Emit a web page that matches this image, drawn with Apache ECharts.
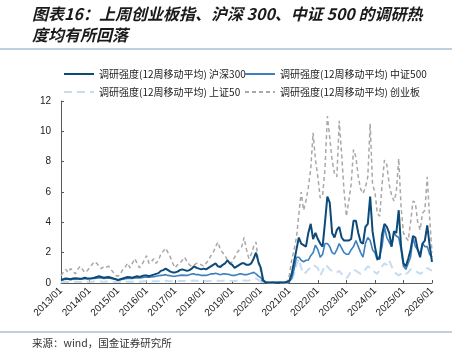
<!DOCTYPE html>
<html>
<head>
<meta charset="utf-8">
<script src="https://cdn.jsdelivr.net/npm/echarts@6/dist/echarts.min.js"></script>
<style>
    html, body { margin: 0; padding: 0; background: #fff; }
    #chart { width: 463px; height: 352px; }
</style>
</head>
<body>
<div id="chart"></div>
<script>
    // 月度数据 2013/01 - 2026/01
    var hs300 = [
        0.2, 0.25, 0.3, 0.28, 0.25, 0.3, 0.32, 0.3, 0.28, 0.3, 0.35, 0.3,
        0.3, 0.32, 0.35, 0.4, 0.45, 0.4, 0.35, 0.38, 0.4, 0.35, 0.3, 0.25,
        0.2, 0.25, 0.3, 0.35, 0.4, 0.38, 0.35, 0.4, 0.45, 0.4, 0.45, 0.5,
        0.5, 0.45, 0.5, 0.55, 0.6, 0.65, 0.8, 0.85, 0.95, 0.85, 0.75, 0.7,
        0.7, 0.75, 0.85, 0.9, 0.85, 0.8, 0.85, 0.95, 1.1, 1.0, 0.95, 0.9,
        0.95, 0.9, 1.0, 1.1, 1.2, 1.3, 1.1, 1.05, 1.2, 1.3, 1.5, 1.3,
        1.2, 1.0, 1.1, 1.2, 1.3, 1.3, 1.2, 1.2, 1.3, 1.6, 2.0, 1.4,
        1.0, 0.2, 0.05, 0.04, 0.04, 0.04, 0.04, 0.04, 0.04, 0.04, 0.04, 0.06,
        0.15, 0.6, 1.4, 2.2, 3.0, 2.6, 2.5, 2.4, 3.3, 3.9, 2.9, 3.3,
        2.9, 2.6, 2.4, 4.0, 5.7, 5.3, 3.3, 3.0, 3.5, 3.7, 3.0, 2.8,
        2.8, 2.8, 2.9, 4.1, 4.1, 3.3, 2.7, 2.6, 3.7, 3.9, 5.7, 3.4,
        2.4, 1.6, 1.6, 3.2, 3.9, 3.7, 3.3, 2.4, 3.4, 3.3, 4.8, 2.4,
        1.3, 1.1, 1.6, 2.2, 3.1, 3.0, 2.2, 1.7, 2.6, 2.8, 3.8, 2.5,
        1.4
    ];
    var zz500 = [
        0.2, 0.22, 0.25, 0.25, 0.22, 0.25, 0.28, 0.27, 0.25, 0.27, 0.3, 0.28,
        0.28, 0.3, 0.3, 0.32, 0.35, 0.33, 0.3, 0.32, 0.33, 0.3, 0.28, 0.25,
        0.2, 0.22, 0.25, 0.28, 0.3, 0.32, 0.3, 0.33, 0.35, 0.33, 0.35, 0.38,
        0.4, 0.38, 0.4, 0.42, 0.45, 0.48, 0.5, 0.52, 0.55, 0.5, 0.48, 0.45,
        0.45, 0.48, 0.5, 0.52, 0.5, 0.5, 0.55, 0.6, 0.6, 0.55, 0.55, 0.5,
        0.5, 0.5, 0.55, 0.6, 0.6, 0.65, 0.6, 0.55, 0.6, 0.6, 0.58, 0.55,
        0.5, 0.5, 0.55, 0.6, 0.6, 0.55, 0.55, 0.6, 0.65, 0.7, 0.6, 0.45,
        0.35, 0.1, 0.04, 0.03, 0.03, 0.03, 0.03, 0.03, 0.03, 0.03, 0.03, 0.04,
        0.08, 0.3, 0.9, 1.7, 1.7, 1.5, 1.4, 1.5, 1.5, 1.8, 2.0, 2.5,
        2.2, 1.7, 1.9, 2.6, 2.6, 2.4, 2.0, 1.9, 2.2, 2.6, 2.3, 2.0,
        1.9, 1.9, 2.2, 2.4, 2.8, 2.4, 2.0, 1.7, 2.6, 3.0, 2.8, 2.2,
        2.0, 1.5, 1.8, 2.4, 3.7, 3.0, 2.7, 2.4, 3.3, 3.1, 3.0, 2.2,
        1.1, 0.9, 1.3, 1.7, 3.0, 2.4, 2.2, 1.9, 2.6, 2.4, 2.4, 1.9,
        1.7
    ];
    var sz50 = [
        0.05, 0.06, 0.08, 0.07, 0.06, 0.08, 0.09, 0.08, 0.07, 0.08, 0.1, 0.08,
        0.08, 0.09, 0.1, 0.1, 0.12, 0.1, 0.09, 0.1, 0.1, 0.09, 0.08, 0.07,
        0.06, 0.06, 0.07, 0.08, 0.09, 0.1, 0.09, 0.1, 0.1, 0.09, 0.1, 0.11,
        0.11, 0.1, 0.1, 0.11, 0.12, 0.12, 0.13, 0.14, 0.15, 0.13, 0.12, 0.12,
        0.12, 0.12, 0.13, 0.14, 0.13, 0.13, 0.14, 0.15, 0.16, 0.15, 0.14, 0.13,
        0.13, 0.12, 0.13, 0.14, 0.15, 0.16, 0.15, 0.14, 0.15, 0.16, 0.17, 0.15,
        0.14, 0.13, 0.15, 0.16, 0.17, 0.16, 0.15, 0.17, 0.2, 0.25, 0.3, 0.2,
        0.1, 0.03, 0.02, 0.02, 0.02, 0.02, 0.02, 0.02, 0.02, 0.02, 0.02, 0.02,
        0.05, 0.2, 0.6, 1.2, 1.6, 1.0, 0.6, 0.7, 0.9, 1.0, 1.2, 1.1,
        1.0, 0.5, 0.8, 1.2, 1.1, 0.9, 0.8, 0.8, 0.7, 0.8, 0.6, 0.4,
        0.3, 0.5, 0.8, 0.9, 0.8, 0.7, 0.6, 0.7, 0.9, 1.1, 1.0, 0.9,
        0.7, 0.6, 0.9, 1.1, 1.3, 1.2, 1.5, 1.1, 0.8, 0.6, 0.5, 0.6,
        0.7, 0.6, 0.7, 0.9, 0.9, 0.8, 0.7, 0.6, 0.7, 0.8, 1.0, 0.9,
        0.8
    ];
    var cyb = [
        0.5, 0.7, 0.9, 0.7, 0.95, 0.8, 0.6, 0.9, 1.1, 0.9, 0.7, 0.8,
        1.0, 1.2, 1.4, 1.3, 1.1, 0.95, 1.1, 1.05, 1.1, 0.9, 0.7, 0.5,
        0.45, 0.6, 0.9, 1.05, 1.3, 1.0, 1.3, 1.6, 1.3, 1.0, 1.2, 1.5,
        1.8, 1.3, 1.4, 1.6, 1.3, 1.5, 1.9, 2.1, 2.3, 2.0, 1.7, 1.3,
        1.0, 1.2, 1.3, 1.5, 1.7, 1.4, 1.2, 1.1, 1.2, 1.3, 1.3, 1.2,
        1.1, 1.3, 1.5, 1.8, 2.0, 2.4, 2.7, 2.2, 2.0, 1.8, 1.5, 1.3,
        1.4, 1.7, 2.0, 2.2, 2.4, 3.0, 2.2, 1.6, 1.9, 2.4, 2.7, 1.3,
        0.8, 0.15, 0.05, 0.05, 0.05, 0.05, 0.05, 0.05, 0.05, 0.05, 0.05, 0.1,
        0.5, 1.5, 2.2, 3.0, 4.5, 6.0, 4.8, 5.4, 6.3, 7.5, 9.9, 8.1,
        7.0, 5.6, 5.8, 7.5, 11.0, 9.6, 8.1, 7.2, 7.0, 10.7, 8.5, 6.1,
        4.4, 5.4, 6.5, 8.8, 8.3, 7.0, 6.2, 5.9, 6.3, 7.0, 10.5, 6.5,
        6.0, 4.6, 4.4, 6.5, 8.1, 7.8, 6.5, 5.8, 5.4, 6.0, 8.2, 5.0,
        3.3, 3.0, 2.8, 4.0, 5.4, 5.3, 4.0, 3.5, 4.6, 4.8, 7.0, 4.3,
        2.0
    ];
    var yTicks = {min: 0, max: 12, interval: 2};

    // x轴月份
    var months = [];
    for (var y = 2013; y <= 2026; y++) {
        for (var m = 1; m <= 12; m++) {
            if (y === 2026 && m > 1) break;
            months.push(y + '/' + (m < 10 ? '0' + m : m));
        }
    }

    var names = [
        '调研强度(12周移动平均) 沪深300',
        '调研强度(12周移动平均) 中证500',
        '调研强度(12周移动平均) 上证50',
        '调研强度(12周移动平均) 创业板'
    ];
    var font = '"Noto Sans CJK SC", "Liberation Sans", sans-serif';

    var legendBase = {
        orient: 'vertical',
        top: 64,
        itemWidth: 30,
        itemHeight: 12,
        itemGap: 8,
        itemStyle: {opacity: 0},
        textStyle: {fontFamily: font, fontSize: 10, color: '#222'}
    };

    var chart = echarts.init(document.getElementById('chart'));
    var option = {
        animation: false,
        title: {
            text: '图表16：上周创业板指、沪深 300、中证 500 的调研热\n度均有所回落',
            left: 27,
            top: -2,
            textStyle: {
                fontFamily: font,
                fontSize: 16,
                fontWeight: 'bold',
                fontStyle: 'italic',
                color: '#1a1a1a',
                lineHeight: 21
            }
        },
        legend: [
            Object.assign({}, legendBase, {left: 58, data: [names[0], names[2]]}),
            Object.assign({}, legendBase, {left: 239, data: [names[1], names[3]]})
        ],
        grid: {
            left: 61,
            right: 31,
            top: 101,
            bottom: 69
        },
        xAxis: {
            type: 'category',
            boundaryGap: false,
            data: months,
            axisLine: {lineStyle: {color: '#595959', width: 1}},
            axisTick: {inside: true, interval: 11, length: 3, lineStyle: {color: '#595959'}},
            axisLabel: {
                interval: 11,
                rotate: 45,
                fontSize: 10,
                color: '#222',
                fontFamily: 'Liberation Sans, sans-serif',
                margin: 6
            },
            splitLine: {show: false}
        },
        yAxis: {
            type: 'value',
            min: yTicks.min,
            max: yTicks.max,
            interval: yTicks.interval,
            axisLine: {show: true, lineStyle: {color: '#595959', width: 1}},
            axisTick: {show: true, inside: true, length: 3, lineStyle: {color: '#595959'}},
            axisLabel: {fontSize: 10, color: '#222', fontFamily: 'Liberation Sans, sans-serif', margin: 10},
            splitLine: {show: false}
        },
        graphic: [
            {
                type: 'line',
                shape: {x1: 0, y1: 49, x2: 452, y2: 49},
                style: {stroke: '#a9c1d6', lineWidth: 1.5}
            },
            {
                type: 'line',
                shape: {x1: 0, y1: 332, x2: 452, y2: 332},
                style: {stroke: '#a9c1d6', lineWidth: 1.5}
            },
            {
                type: 'text',
                left: 32,
                top: 338,
                style: {
                    text: '来源：wind，国金证券研究所',
                    font: '10.5px ' + font,
                    fill: '#333'
                }
            }
        ],
        series: [
            {
                name: names[0],
                type: 'line',
                symbol: 'none',
                data: hs300,
                z: 5,
                lineStyle: {color: '#0d4a78', width: 2},
                itemStyle: {color: '#0d4a78'}
            },
            {
                name: names[1],
                type: 'line',
                symbol: 'none',
                data: zz500,
                z: 4,
                lineStyle: {color: '#3d7fbf', width: 1.6},
                itemStyle: {color: '#3d7fbf'}
            },
            {
                name: names[2],
                type: 'line',
                symbol: 'none',
                data: sz50,
                z: 2,
                lineStyle: {color: '#c6ddf1', width: 2, type: [8, 5]},
                itemStyle: {color: '#c6ddf1'}
            },
            {
                name: names[3],
                type: 'line',
                symbol: 'none',
                data: cyb,
                z: 3,
                lineStyle: {color: '#a8a8a8', width: 1.5, type: [4, 3]},
                itemStyle: {color: '#a8a8a8'}
            }
        ]
    };
    chart.setOption(option);
</script>
</body>
</html>
